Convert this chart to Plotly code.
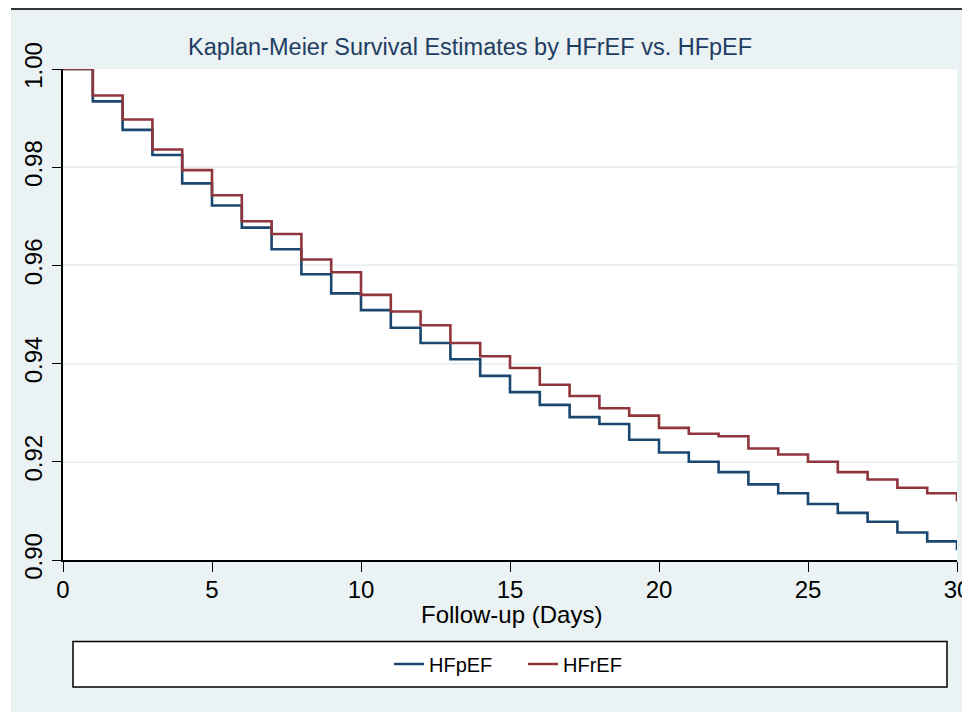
import plotly.graph_objects as go

# ---- data ----
days = list(range(0, 31))
hfpef = [1.0, 0.9934, 0.9876, 0.9825, 0.9767, 0.9722, 0.9677, 0.9633, 0.9582, 0.9543,
         0.9509, 0.9473, 0.9442, 0.9409, 0.9375, 0.9342, 0.9316, 0.9291, 0.9277, 0.9245,
         0.9219, 0.9200, 0.9179, 0.9154, 0.9136, 0.9114, 0.9096, 0.9078, 0.9056, 0.9038,
         0.9020]
hfref = [1.0, 0.9946, 0.9897, 0.9836, 0.9794, 0.9743, 0.9690, 0.9664, 0.9612, 0.9586,
         0.9540, 0.9506, 0.9478, 0.9442, 0.9415, 0.9391, 0.9357, 0.9334, 0.9309, 0.9294,
         0.9269, 0.9257, 0.9252, 0.9227, 0.9215, 0.9200, 0.9179, 0.9164, 0.9147, 0.9136,
         0.9119]
x_ticks = [0, 5, 10, 15, 20, 25, 30]
y_ticks = [0.90, 0.92, 0.94, 0.96, 0.98, 1.00]
title_text = "Kaplan-Meier Survival Estimates by HFrEF vs. HFpEF"
x_title = "Follow-up (Days)"

# ---- layout geometry ----
# The page body has an 8px margin, so the figure starts at page (8, 8).
OFF = 8
W, H = 970 - OFF, 712 - OFF
PL, PR, PT, PB = 63, 957, 69, 560          # plot area in page pixels
L, R, T, B = PL - OFF, PR - OFF, PT - OFF, PB - OFF


def px(x):
    """page x pixel -> paper fraction"""
    return (x - PL) / (PR - PL)


def py(y):
    """page y pixel -> paper fraction"""
    return (PB - y) / (PB - PT)


FONT = "Liberation Sans, Arial, Helvetica, sans-serif"
NAVY = "#1A476F"
MAROON = "#90353B"
BG = "#EAF2F3"

fig = go.Figure()
fig.add_trace(go.Scatter(x=days, y=hfpef, mode="lines", name="HFpEF",
                         line=dict(color=NAVY, width=2.6, shape="hv")))
fig.add_trace(go.Scatter(x=days, y=hfref, mode="lines", name="HFrEF",
                         line=dict(color=MAROON, width=2.6, shape="hv")))

fig.update_layout(
    width=W, height=H,
    margin=dict(l=L, r=W - R, t=T, b=H - B, pad=0, autoexpand=False),
    paper_bgcolor=BG,
    plot_bgcolor="white",
    font=dict(family=FONT, size=24, color="black"),
    showlegend=True,
    legend=dict(orientation="h", x=px(389), y=py(664), xanchor="left", yanchor="middle",
                bgcolor="rgba(0,0,0,0)", font=dict(size=20, color="black"),
                itemwidth=30, entrywidth=89, entrywidthmode="pixels", tracegroupgap=0),
    xaxis=dict(range=[0, 30], tickvals=x_ticks, ticks="outside", ticklen=10, tickwidth=1.3,
               tickcolor="black", showline=True, linecolor="black", linewidth=1.5,
               showgrid=False, zeroline=False, ticklabelstandoff=-3,
               ticklabeloverflow="allow", automargin=False,
               tickfont=dict(size=24, color="black")),
    yaxis=dict(range=[0.90, 1.00], tickvals=y_ticks, tickformat=".2f", tickangle=-90,
               ticks="outside", ticklen=9, tickwidth=1.3, tickcolor="black",
               showline=True, linecolor="black", linewidth=1.5,
               showgrid=True, gridcolor=BG, gridwidth=2, zeroline=False,
               ticklabelstandoff=1, ticklabeloverflow="allow", automargin=False,
               tickfont=dict(size=24, color="black")),
    shapes=[
        # white left strip and dark top rule of the frame
        dict(type="rect", xref="paper", yref="paper", x0=px(0), x1=px(11), y0=py(730), y1=py(0),
             fillcolor="white", line=dict(width=0), layer="below"),
        dict(type="line", xref="paper", yref="paper", x0=px(11), x1=px(990), y0=py(9), y1=py(9),
             line=dict(color="#333333", width=2)),
        # legend box
        dict(type="rect", xref="paper", yref="paper", x0=px(73), x1=px(947), y0=py(687), y1=py(641.5),
             fillcolor="white", line=dict(color="black", width=1.5), layer="below"),
    ],
    annotations=[
        dict(text=title_text, xref="paper", yref="paper", x=px(470), y=py(47),
             xanchor="center", yanchor="middle", showarrow=False,
             font=dict(size=23.5, color="#1F3D63", family=FONT)),
        dict(text=x_title, xref="paper", yref="paper", x=px(511), y=py(614),
             xanchor="center", yanchor="middle", showarrow=False,
             font=dict(size=24, color="black", family=FONT)),
    ],
)

fig.write_html("out.html")
